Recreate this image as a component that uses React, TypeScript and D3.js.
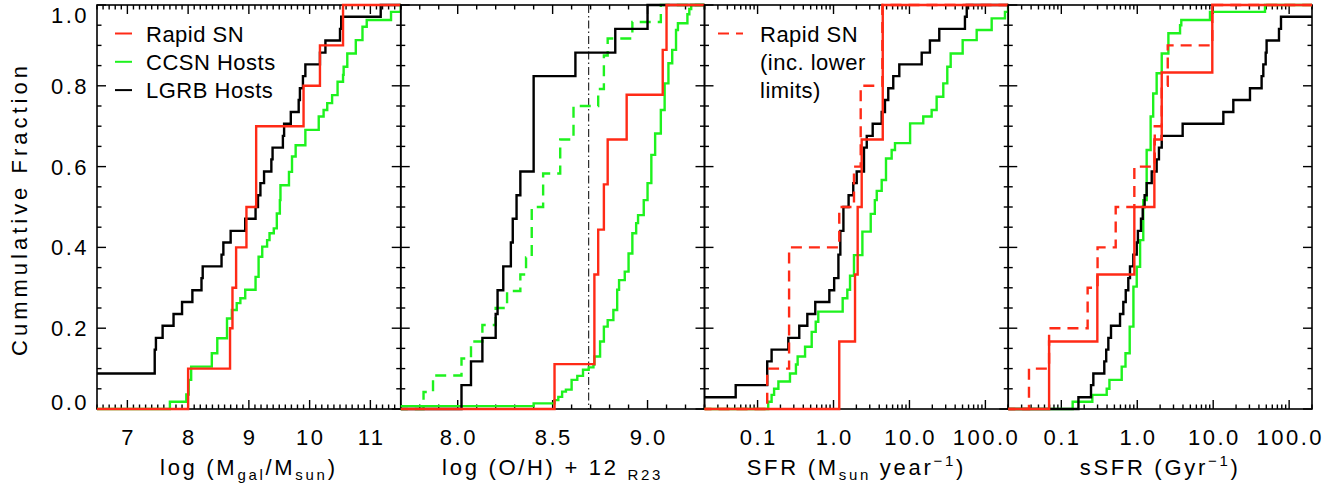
import React from 'react';
import * as d3 from 'd3';

// ---------- Data ----------
// Panel 1: log (Mgal/Msun)
const massRapidX = [8.0, 8.69, 8.73, 8.79, 8.96, 9.12, 9.9, 10.17, 10.55];
const massRapidF = [0.1, 0.2, 0.3, 0.4, 0.5, 0.7, 0.8, 0.9, 1.0];
const massCcsnX = [7.7, 7.97, 8.01, 8.05, 8.39, 8.48, 8.64, 8.72, 8.8, 8.86, 8.94, 9.11, 9.16, 9.22, 9.3, 9.34, 9.41, 9.46, 9.51, 9.52, 9.66, 9.71, 9.77, 9.93, 10.15, 10.23, 10.29, 10.37, 10.46, 10.55, 10.56, 10.62, 10.76, 10.87, 10.94, 11.34, 11.5];
const massCcsnF = [0.018, 0.036, 0.072, 0.105, 0.138, 0.175, 0.224, 0.245, 0.262, 0.274, 0.295, 0.327, 0.377, 0.402, 0.418, 0.435, 0.447, 0.484, 0.517, 0.554, 0.587, 0.625, 0.653, 0.691, 0.724, 0.74, 0.757, 0.777, 0.81, 0.827, 0.847, 0.88, 0.913, 0.946, 0.963, 0.983, 1.0];
const massLgrbX = [6.0, 7.45, 7.47, 7.58, 7.76, 7.9, 8.07, 8.22, 8.24, 8.55, 8.58, 8.7, 8.94, 9.11, 9.15, 9.19, 9.25, 9.37, 9.39, 9.56, 9.58, 9.69, 9.82, 9.84, 9.89, 9.93, 10.17, 10.26, 10.5, 10.52, 11.17];
const massLgrbF = [0.088, 0.147, 0.176, 0.206, 0.235, 0.265, 0.294, 0.324, 0.353, 0.382, 0.412, 0.441, 0.471, 0.5, 0.529, 0.559, 0.588, 0.618, 0.647, 0.676, 0.706, 0.735, 0.765, 0.794, 0.824, 0.853, 0.882, 0.912, 0.941, 0.971, 1.0];

// Panel 2: log (O/H) + 12 (R23)
const ohRapidX = [8.51, 8.72, 8.74, 8.77, 8.79, 8.89, 9.08, 9.1];
const ohRapidF = [0.111, 0.333, 0.444, 0.556, 0.667, 0.778, 0.889, 1.0];
const ohLgrbX = [8.02, 8.07, 8.13, 8.2, 8.21, 8.24, 8.28, 8.29, 8.31, 8.33, 8.4, 8.62, 8.83, 9.0];
const ohLgrbF = [0.059, 0.118, 0.176, 0.235, 0.294, 0.353, 0.412, 0.471, 0.529, 0.588, 0.824, 0.882, 0.941, 1.0];
const ohCcsnX = [7.5, 8.4, 8.51, 8.53, 8.55, 8.57, 8.6, 8.63, 8.66, 8.69, 8.715, 8.72, 8.75, 8.77, 8.79, 8.82, 8.84, 8.85, 8.88, 8.9, 8.92, 8.94, 8.95, 8.98, 9.0, 9.02, 9.04, 9.07, 9.09, 9.11, 9.13, 9.15, 9.16, 9.21, 9.22, 9.23];
const ohCcsnF = [0.007, 0.014, 0.022, 0.03, 0.043, 0.048, 0.072, 0.082, 0.097, 0.103, 0.11, 0.13, 0.167, 0.204, 0.22, 0.245, 0.295, 0.319, 0.34, 0.385, 0.435, 0.46, 0.48, 0.517, 0.559, 0.629, 0.682, 0.74, 0.806, 0.856, 0.889, 0.938, 0.955, 0.977, 0.99, 1.0];
const ohCcsnAltX = [7.82, 7.87, 8.02, 8.07, 8.13, 8.2, 8.26, 8.33, 8.36, 8.39, 8.45, 8.54, 8.61, 8.74, 8.77, 8.79, 8.92, 9.07];
const ohCcsnAltF = [0.042, 0.083, 0.125, 0.167, 0.208, 0.25, 0.292, 0.333, 0.375, 0.5, 0.583, 0.667, 0.75, 0.792, 0.875, 0.917, 0.958, 1.0];
const ohSolar = 8.69;

// Panel 3: SFR (Msun / yr)
const sfrRapidX = [1.19, 1.92, 2.08, 2.35, 4.45];
const sfrRapidF = [0.167, 0.333, 0.5, 0.667, 1.0];
const sfrRapidLimX = [0.134, 0.26, 1.19, 1.86, 2.28, 4.4];
const sfrRapidLimF = [0.1, 0.4, 0.5, 0.6, 0.8, 1.0];
const sfrLgrbX = [0.01, 0.0515, 0.134, 0.153, 0.254, 0.354, 0.452, 0.575, 0.881, 1.02, 1.16, 1.23, 1.35, 1.58, 1.82, 2.02, 2.52, 2.74, 3.28, 4.31, 4.76, 5.26, 6.12, 7.35, 14.5, 18.6, 24.7, 53.8, 56.8];
const sfrLgrbF = [0.029, 0.059, 0.118, 0.147, 0.176, 0.206, 0.235, 0.265, 0.294, 0.324, 0.382, 0.441, 0.5, 0.529, 0.559, 0.588, 0.647, 0.676, 0.706, 0.735, 0.765, 0.794, 0.824, 0.853, 0.882, 0.912, 0.941, 0.971, 1.0];
const sfrCcsnX = [0.138, 0.153, 0.165, 0.188, 0.267, 0.32, 0.337, 0.422, 0.516, 0.583, 0.63, 1.32, 1.52, 1.65, 1.86, 2.4, 3.09, 3.5, 3.71, 4.31, 4.91, 5.83, 6.45, 10.2, 15.2, 19.6, 22.8, 27.9, 31.5, 34.9, 50.2, 76.8, 121, 181, 199];
const sfrCcsnF = [0.018, 0.035, 0.05, 0.068, 0.088, 0.11, 0.13, 0.154, 0.191, 0.216, 0.241, 0.274, 0.295, 0.33, 0.381, 0.439, 0.483, 0.517, 0.54, 0.567, 0.62, 0.641, 0.658, 0.707, 0.724, 0.74, 0.773, 0.806, 0.847, 0.88, 0.913, 0.938, 0.967, 0.983, 1.0];

// Panel 4: sSFR (1/Gyr)
const ssfrRapidX = [0.069, 0.298, 0.915, 1.68, 2.1, 9.73];
const ssfrRapidF = [0.167, 0.333, 0.5, 0.667, 0.833, 1.0];
const ssfrRapidLimX = [0.0375, 0.069, 0.222, 0.3, 0.52, 0.915, 1.7, 2.1, 2.52, 9.73];
const ssfrRapidLimF = [0.1, 0.2, 0.3, 0.4, 0.5, 0.6, 0.7, 0.8, 0.9, 1.0];
const ssfrLgrbX = [0.168, 0.246, 0.264, 0.368, 0.39, 0.416, 0.451, 0.593, 0.655, 0.705, 0.762, 0.802, 0.887, 0.984, 1.02, 1.12, 1.18, 1.25, 1.33, 1.55, 1.8, 1.93, 2.1, 3.96, 13.6, 18.4, 30.5, 43.4, 45.7, 49.1, 50.5, 73.5, 78.1, 260];
const ssfrLgrbF = [0.029, 0.059, 0.088, 0.118, 0.147, 0.176, 0.206, 0.235, 0.265, 0.294, 0.324, 0.353, 0.382, 0.412, 0.441, 0.471, 0.5, 0.529, 0.559, 0.588, 0.618, 0.647, 0.676, 0.706, 0.735, 0.765, 0.794, 0.824, 0.853, 0.882, 0.912, 0.941, 0.971, 1.0];
const ssfrCcsnX = [0.141, 0.256, 0.396, 0.43, 0.624, 0.7, 0.795, 0.89, 0.984, 1.09, 1.2, 1.33, 1.5, 1.62, 1.8, 2.1, 2.57, 3.66, 3.8, 9.07, 48.1];
const ssfrCcsnF = [0.018, 0.035, 0.05, 0.072, 0.105, 0.138, 0.204, 0.303, 0.352, 0.418, 0.517, 0.641, 0.724, 0.781, 0.831, 0.88, 0.93, 0.95, 0.963, 0.983, 1.0];

// Axis ticks / labels
const yTickValues = [0, 0.2, 0.4, 0.6, 0.8, 1.0];
const yTickLabels = ['0.0', '0.2', '0.4', '0.6', '0.8', '1.0'];
const massTicks = [7, 8, 9, 10, 11];
const massTickLabels = ['7', '8', '9', '10', '11'];
const ohTicks = [8.0, 8.5, 9.0];
const ohTickLabels = ['8.0', '8.5', '9.0'];
const logTicks = [0.1, 1, 10, 100];
const logTickLabels = ['0.1', '1.0', '10.0', '100.0'];
const legendLabels = ['Rapid SN', 'CCSN Hosts', 'LGRB Hosts'];
const legend2Lines = ['Rapid SN', '(inc. lower', 'limits)'];

// ---------- Layout ----------
const W = 1338, H = 484;
const LEFT = 97, RIGHT = 1312, TOP = 5, BOTTOM = 409;
const PW = (RIGHT - LEFT) / 4;
const RED = '#ff2a16', GREEN = '#1ef21e', BLACK = '#000000';
const FONT = '"Liberation Sans", Arial, Helvetica, sans-serif';
const LW = 2.4;

type Series = { xs: number[]; fs: number[]; color: string; dash?: string };

function stepPath(s: Series, sx: (v: number) => number, sy: (v: number) => number, x0: number, x1: number) {
  let d = `M${x0},${sy(0)}`;
  for (let i = 0; i < s.xs.length; i++) {
    const px = sx(s.xs[i]);
    d += `H${px}V${sy(s.fs[i])}`;
  }
  d += `H${x1}`;
  return d;
}

function linMinors(a: number, b: number, step: number, majors: number[]) {
  const out: number[] = [];
  const n = Math.round((b - a) / step);
  for (let i = 0; i <= n; i++) {
    const v = +(a + i * step).toFixed(4);
    if (!majors.some(m => Math.abs(m - v) < 1e-6)) out.push(v);
  }
  return out;
}

function logMinors(a: number, b: number) {
  const out: number[] = [];
  for (let e = -3; e <= 3; e++) {
    for (let k = 2; k <= 9; k++) {
      const v = k * Math.pow(10, e);
      if (v >= a * 0.999 && v <= b * 1.001) out.push(v);
    }
  }
  return out;
}

export default function App() {
  const y = d3.scaleLinear().domain([0, 1]).range([BOTTOM, TOP]);
  const yMinor = linMinors(0, 1, 0.05, yTickValues);

  const panels = [
    {
      scale: d3.scaleLinear().domain([6.5, 11.5]),
      majors: massTicks, labels: massTickLabels,
      minors: linMinors(6.5, 11.5, 0.1, massTicks),
      series: [
        { xs: massCcsnX, fs: massCcsnF, color: GREEN },
        { xs: massLgrbX, fs: massLgrbF, color: BLACK },
        { xs: massRapidX, fs: massRapidF, color: RED },
      ] as Series[],
    },
    {
      scale: d3.scaleLinear().domain([7.7, 9.3]),
      majors: ohTicks, labels: ohTickLabels,
      minors: linMinors(7.7, 9.3, 0.1, ohTicks),
      series: [
        { xs: ohCcsnX, fs: ohCcsnF, color: GREEN },
        { xs: ohCcsnAltX, fs: ohCcsnAltF, color: GREEN, dash: '11,7' },
        { xs: ohLgrbX, fs: ohLgrbF, color: BLACK },
        { xs: ohRapidX, fs: ohRapidF, color: RED },
      ] as Series[],
    },
    {
      scale: d3.scaleLog().domain([0.02, 200]),
      majors: logTicks, labels: logTickLabels,
      minors: logMinors(0.02, 200),
      series: [
        { xs: sfrCcsnX, fs: sfrCcsnF, color: GREEN },
        { xs: sfrLgrbX, fs: sfrLgrbF, color: BLACK },
        { xs: sfrRapidLimX, fs: sfrRapidLimF, color: RED, dash: '11,7' },
        { xs: sfrRapidX, fs: sfrRapidF, color: RED },
      ] as Series[],
    },
    {
      scale: d3.scaleLog().domain([0.02, 200]),
      majors: logTicks, labels: logTickLabels,
      minors: logMinors(0.02, 200),
      series: [
        { xs: ssfrCcsnX, fs: ssfrCcsnF, color: GREEN },
        { xs: ssfrLgrbX, fs: ssfrLgrbF, color: BLACK },
        { xs: ssfrRapidLimX, fs: ssfrRapidLimF, color: RED, dash: '11,7' },
        { xs: ssfrRapidX, fs: ssfrRapidF, color: RED },
      ] as Series[],
    },
  ];

  const MAJ = 9, MIN = 4.5;
  const tickStroke = { stroke: BLACK, strokeWidth: 1.4 };

  const titleStyle: React.CSSProperties = { letterSpacing: '2.7px' };

  return (
    <svg width={W} height={H} style={{ position: 'absolute', left: 0, top: 0, background: '#fff' }}
      fontFamily={FONT}>
      <rect x={0} y={0} width={W} height={H} fill="#fff" />
      <defs>
        {panels.map((p, i) => (
          <clipPath id={`clip${i}`} key={i}>
            <rect x={LEFT + i * PW} y={TOP - 3} width={PW} height={BOTTOM - TOP + 6} />
          </clipPath>
        ))}
      </defs>

      {panels.map((p, i) => {
        const x0 = LEFT + i * PW, x1 = x0 + PW;
        const sx = p.scale.copy().range([x0, x1]) as any;
        return (
          <g key={i}>
            <rect x={x0} y={TOP} width={PW} height={BOTTOM - TOP} fill="none" stroke={BLACK} strokeWidth={1.6} />
            {/* x ticks bottom & top */}
            {p.majors.map((v, k) => (
              <g key={'M' + k}>
                <line x1={sx(v)} x2={sx(v)} y1={BOTTOM} y2={BOTTOM - MAJ} {...tickStroke} />
                <line x1={sx(v)} x2={sx(v)} y1={TOP} y2={TOP + MAJ} {...tickStroke} />
              </g>
            ))}
            {p.minors.map((v, k) => (
              <g key={'m' + k}>
                <line x1={sx(v)} x2={sx(v)} y1={BOTTOM} y2={BOTTOM - MIN} {...tickStroke} />
                <line x1={sx(v)} x2={sx(v)} y1={TOP} y2={TOP + MIN} {...tickStroke} />
              </g>
            ))}
            {/* y ticks left & right */}
            {yTickValues.map((v, k) => (
              <g key={'yM' + k}>
                <line x1={x0} x2={x0 + MAJ} y1={y(v)} y2={y(v)} {...tickStroke} />
                <line x1={x1} x2={x1 - MAJ} y1={y(v)} y2={y(v)} {...tickStroke} />
              </g>
            ))}
            {yMinor.map((v, k) => (
              <g key={'ym' + k}>
                <line x1={x0} x2={x0 + MIN} y1={y(v)} y2={y(v)} {...tickStroke} />
                <line x1={x1} x2={x1 - MIN} y1={y(v)} y2={y(v)} {...tickStroke} />
              </g>
            ))}
            {/* x tick labels */}
            {p.majors.map((v, k) => (
              <text key={'xl' + k} x={sx(v) + 1.2} y={445} fontSize={22} textAnchor="middle"
                style={{ letterSpacing: '2.5px' }} fill={BLACK}>{p.labels[k]}</text>
            ))}
            {/* solar metallicity line */}
            {i === 1 && (
              <line x1={sx(ohSolar)} x2={sx(ohSolar)} y1={TOP} y2={BOTTOM} stroke={BLACK}
                strokeWidth={1} strokeDasharray="8,3,1.5,3" />
            )}
            {/* data */}
            <g clipPath={`url(#clip${i})`}>
              {p.series.map((s, k) => (
                <path key={k} d={stepPath(s, sx, y, x0 - 40, x1 + 40)} fill="none" stroke={s.color}
                  strokeWidth={LW} strokeDasharray={s.dash} strokeLinejoin="miter" />
              ))}
            </g>
          </g>
        );
      })}

      {/* y tick labels */}
      {yTickValues.map((v, k) => {
        const cy = Math.min(Math.max(y(v), TOP + 10), BOTTOM - 7);
        return (
          <text key={k} x={89} y={cy + 8} fontSize={22} textAnchor="end"
            style={{ letterSpacing: '2.5px' }} fill={BLACK}>{yTickLabels[k]}</text>
        );
      })}

      {/* y title */}
      <text transform={`translate(27,211) rotate(-90)`} fontSize={22} textAnchor="middle"
        textLength={290} lengthAdjust="spacing" fill={BLACK}>Cummulative Fraction</text>

      {/* x titles */}
      <text x={LEFT + PW * 0.5} y={475} fontSize={22} textAnchor="middle" style={titleStyle} fill={BLACK}>
        log (M<tspan fontSize={15} dy={5}>gal</tspan><tspan dy={-5}>/M</tspan><tspan fontSize={15} dy={5}>sun</tspan><tspan dy={-5}>)</tspan>
      </text>
      <text x={LEFT + PW * 1.5} y={475} fontSize={22} textAnchor="middle" style={titleStyle} fill={BLACK}>
        log (O/H) + 12 <tspan fontSize={15} dy={5}>R23</tspan>
      </text>
      <text x={LEFT + PW * 2.5} y={475} fontSize={22} textAnchor="middle" style={titleStyle} fill={BLACK}>
        SFR (M<tspan fontSize={15} dy={5}>sun</tspan><tspan dy={-5}> year</tspan><tspan fontSize={15} dy={-9}>−1</tspan><tspan dy={9}>)</tspan>
      </text>
      <text x={LEFT + PW * 3.5} y={475} fontSize={22} textAnchor="middle" style={titleStyle} fill={BLACK}>
        sSFR (Gyr<tspan fontSize={15} dy={-9}>−1</tspan><tspan dy={9}>)</tspan>
      </text>

      {/* legend panel 1 */}
      {[RED, GREEN, BLACK].map((c, k) => (
        <g key={'lg' + k}>
          <line x1={115} x2={132} y1={33.5 + k * 28.3} y2={33.5 + k * 28.3} stroke={c} strokeWidth={2} />
          <text x={146} y={41.7 + k * 28.3} fontSize={22} fill={BLACK} style={{ letterSpacing: '0.5px' }}>{legendLabels[k]}</text>
        </g>
      ))}

      {/* legend panel 3 */}
      <line x1={718} x2={743} y1={33.5} y2={33.5} stroke={RED} strokeWidth={2} strokeDasharray="11,7" />
      {legend2Lines.map((t, k) => (
        <text key={'l2' + k} x={760} y={41.7 + k * 28} fontSize={22} fill={BLACK} style={{ letterSpacing: '0.5px' }}>{t}</text>
      ))}
    </svg>
  );
}
